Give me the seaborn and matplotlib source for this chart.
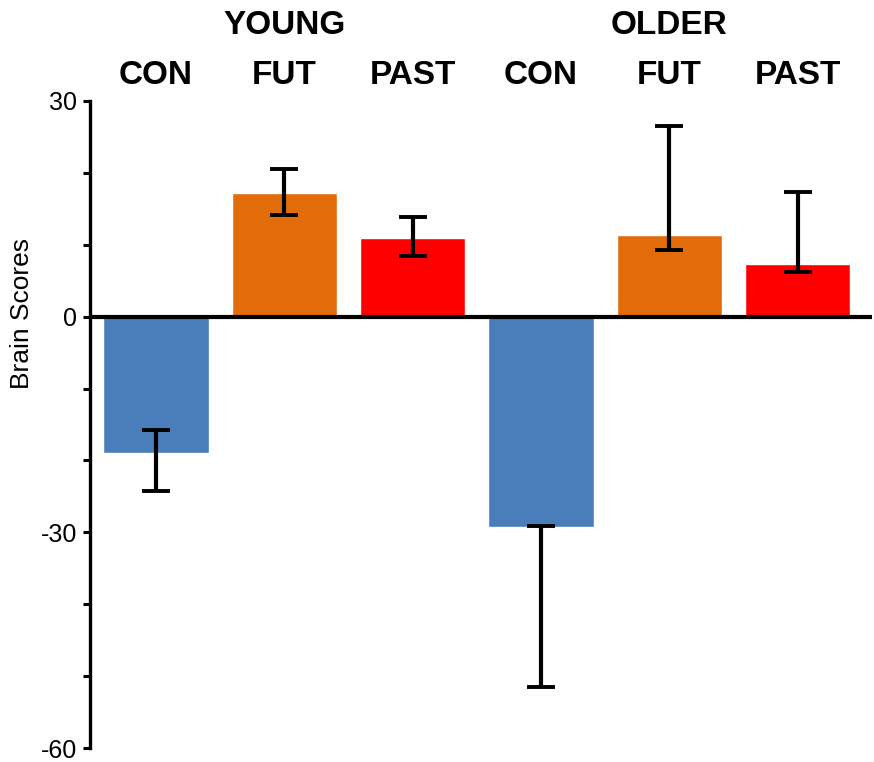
import matplotlib
matplotlib.use("Agg")
import matplotlib.pyplot as plt
import matplotlib.transforms as mtransforms
from matplotlib.ticker import MultipleLocator
import numpy as np
import pandas as pd
import seaborn as sns

# Brain scores per age group and condition, with asymmetric confidence bounds
groups = ["YOUNG", "YOUNG", "YOUNG", "OLDER", "OLDER", "OLDER"]
conditions = ["CON", "FUT", "PAST", "CON", "FUT", "PAST"]
scores = [-18.9, 17.2, 11.0, -29.3, 11.4, 7.3]
ci_upper = [-15.7, 20.6, 13.8, -29.1, 26.5, 17.4]
ci_lower = [-24.2, 14.1, 8.5, -51.5, 9.3, 6.2]
y_ticks = [30, 0, -30, -60]

colors = {"CON": "#4a7ebb", "FUT": "#e36c0a", "PAST": "#ff0000"}

sns.set_style("white")
plt.rcParams["font.family"] = ["Liberation Sans", "DejaVu Sans"]
plt.rcParams["text.color"] = "black"
plt.rcParams["ytick.color"] = "black"
plt.rcParams["axes.labelcolor"] = "black"

df = pd.DataFrame({
    "slot": [f"{g}-{c}" for g, c in zip(groups, conditions)],
    "group": groups,
    "condition": conditions,
    "score": scores,
})

fig = plt.figure(figsize=(8.74, 7.62), dpi=100)
ax = fig.add_axes([90 / 874, 1 - 748 / 762, (872 - 90) / 874, (748 - 101) / 762])

sns.barplot(data=df, x="slot", y="score", hue="condition", palette=colors,
            dodge=False, width=0.82, legend=False, errorbar=None, ax=ax,
            saturation=1, zorder=2)

xpos = np.arange(len(scores))
vals = np.array(scores)
yerr = np.vstack([vals - np.array(ci_lower), np.array(ci_upper) - vals])
ax.errorbar(xpos, vals, yerr=yerr, fmt="none", ecolor="black",
            elinewidth=3.0, capsize=9.8, capthick=2.8, zorder=3)

ax.axhline(0, color="black", lw=3.0, zorder=4)

ax.set_xlim(-0.515, 5.58)
ax.set_ylim(-60, 30)
ax.set_yticks(y_ticks)
ax.set_yticklabels([str(t) for t in y_ticks], fontsize=18)
ax.yaxis.set_minor_locator(MultipleLocator(10))
ax.tick_params(axis="y", which="both", direction="out", length=5, width=2.2,
               color="black", pad=4, left=True)
ax.set_xticks([])
ax.set_xlabel("")
ax.set_ylabel("Brain Scores", fontsize=19)
ax.yaxis.set_label_coords(-0.072, 0.672)

for side in ["top", "right", "bottom"]:
    ax.spines[side].set_visible(False)
ax.spines["left"].set_linewidth(2.4)
ax.spines["left"].set_color("black")

# Column headers above the plot
trans = mtransforms.blended_transform_factory(ax.transData, fig.transFigure)
for x, cond in zip(xpos, conditions):
    ax.text(x, 1 - 76 / 762, cond, transform=trans, ha="center", va="center",
            fontsize=24, fontweight="bold")
for x, grp in [(1, "YOUNG"), (4, "OLDER")]:
    ax.text(x, 1 - 26 / 762, grp, transform=trans, ha="center", va="center",
            fontsize=24, fontweight="bold")

fig.savefig("out.png", dpi=100, facecolor="white")
